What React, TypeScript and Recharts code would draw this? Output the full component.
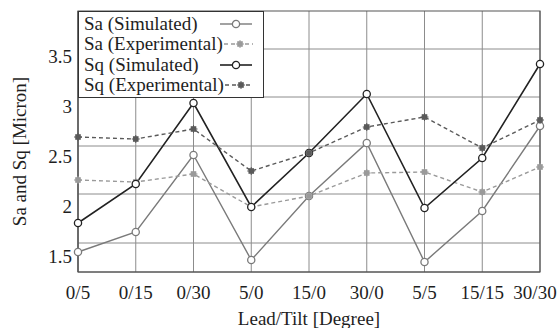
import { CartesianGrid, Label, Line, LineChart, ReferenceArea, XAxis, YAxis } from 'recharts';

const categories = ['0/5', '0/15', '0/30', '5/0', '15/0', '30/0', '5/5', '15/15', '30/30'];
const saSimulated = [1.54, 1.74, 2.51, 1.46, 2.1, 2.63, 1.44, 1.95, 2.8];
const saExperimental = [2.26, 2.24, 2.32, 1.99, 2.1, 2.33, 2.34, 2.14, 2.39];
const sqSimulated = [1.83, 2.22, 3.03, 1.99, 2.53, 3.12, 1.98, 2.48, 3.42];
const sqExperimental = [2.69, 2.67, 2.77, 2.35, 2.53, 2.79, 2.89, 2.58, 2.86];
const yTicks = [1.5, 2, 2.5, 3, 3.5];
// the scanned grid sits a little off the tick labels
const gridValues = [1.63, 2.12, 2.6, 3.09, 3.57];
const yDomain = [1.34, 3.95];

const data = categories.map((cat, i) => ({
  cat,
  saSim: saSimulated[i],
  saExp: saExperimental[i],
  sqSim: sqSimulated[i],
  sqExp: sqExperimental[i],
}));

const FONT = '"Liberation Serif", "Times New Roman", serif';
const TEXT = '#1e1e1e';

interface Series {
  key: string;
  name: string;
  color: string;
  dashed: boolean;
  width: number;
}

const series: Series[] = [
  { key: 'saSim', name: 'Sa (Simulated)', color: '#7a7a7a', dashed: false, width: 1.4 },
  { key: 'saExp', name: 'Sa (Experimental)', color: '#9a9a9a', dashed: true, width: 1.4 },
  { key: 'sqSim', name: 'Sq (Simulated)', color: '#222', dashed: false, width: 1.6 },
  { key: 'sqExp', name: 'Sq (Experimental)', color: '#5a5a5a', dashed: true, width: 1.4 },
];

function marker(s: Series, cx: number, cy: number, key?: string | number) {
  if (!s.dashed) {
    return <circle key={key} cx={cx} cy={cy} r={3.6} fill="#fff" stroke={s.color} strokeWidth={1.3} />;
  }
  return (
    <g key={key}>
      <rect x={cx - 2.8} y={cy - 2.8} width={5.6} height={5.6} fill={s.color} />
      <path d={`M${cx - 4},${cy} L${cx + 4},${cy} M${cx},${cy - 4} L${cx},${cy + 4}`} stroke={s.color} strokeWidth={1} />
    </g>
  );
}

// keep the last label inside the picture, as the scan does
const XTick = (props: any) => {
  const { x, y, payload } = props;
  return (
    <text x={Math.min(x, 535)} y={y} dy="0.71em" textAnchor="middle" fill={TEXT} fontSize={19} fontFamily={FONT}>
      {payload.value}
    </text>
  );
};

const YTitle = (props: any) => {
  const vb = props.viewBox;
  const cx = vb.x + 19;
  const cy = vb.y + vb.height / 2 + 10;
  return (
    <text x={cx} y={cy} transform={`rotate(-90 ${cx} ${cy})`} textAnchor="middle" dominantBaseline="central" fill={TEXT} fontSize={19} fontFamily={FONT}>
      Sa and Sq [Micron]
    </text>
  );
};

function LegendBox() {
  return (
    <div
      style={{
        position: 'absolute',
        left: 78,
        top: 11,
        width: 186,
        height: 87,
        boxSizing: 'border-box',
        border: '1px solid #333',
        background: '#fff',
        fontFamily: FONT,
        fontSize: 19,
        color: TEXT,
        padding: '2px 0 0 5px',
      }}
    >
      {series.map((s) => (
        <div key={s.key} style={{ display: 'flex', alignItems: 'center', height: 20.3, lineHeight: '20px', whiteSpace: 'nowrap' }}>
          <span style={{ flex: 1 }}>{s.name}</span>
          <svg width={34} height={12} style={{ marginRight: 10 }}>
            <line x1={1} y1={6} x2={33} y2={6} stroke={s.color} strokeWidth={s.width} strokeDasharray={s.dashed ? '4 3' : undefined} />
            {marker(s, 17, 6)}
          </svg>
        </div>
      ))}
    </div>
  );
}

export default function App() {
  return (
    <div style={{ position: 'absolute', left: 0, top: 0, width: 560, height: 328, background: '#fff', fontFamily: FONT }}>
      <LineChart width={560} height={328} data={data} margin={{ top: 11, right: 20, bottom: 0, left: 0 }}>
        <CartesianGrid horizontalValues={gridValues} stroke="#8c8c8c" strokeWidth={1} />
        <ReferenceArea
          x1={categories[0]}
          x2={categories[categories.length - 1]}
          y1={yDomain[0]}
          y2={yDomain[1]}
          fill="none"
          stroke="#555"
          strokeWidth={1.2}
        />
        <XAxis
          dataKey="cat"
          scale="point"
          padding={{ left: 0, right: 0 }}
          interval={0}
          height={56}
          tickSize={0}
          tickMargin={14}
          axisLine={{ stroke: '#555' }}
          tick={<XTick />}
        >
          <Label value="Lead/Tilt [Degree]" position="insideBottom" offset={3} fill={TEXT} fontSize={19} fontFamily={FONT} />
        </XAxis>
        <YAxis
          type="number"
          domain={yDomain}
          ticks={yTicks}
          width={78}
          tickSize={0}
          tickMargin={6}
          axisLine={{ stroke: '#555' }}
          tick={{ fill: TEXT, fontSize: 19, fontFamily: FONT }}
          tickFormatter={(v: number) => String(v)}
        >
          <Label content={YTitle} />
        </YAxis>
        {series.map((s) => (
          <Line
            key={s.key}
            dataKey={s.key}
            name={s.name}
            type="linear"
            stroke={s.color}
            strokeWidth={s.width}
            strokeDasharray={s.dashed ? '4 3' : undefined}
            dot={(p: any) => marker(s, p.cx, p.cy, `${s.key}-${p.index}`)}
            activeDot={false}
            isAnimationActive={false}
          />
        ))}
      </LineChart>
      <LegendBox />
    </div>
  );
}
